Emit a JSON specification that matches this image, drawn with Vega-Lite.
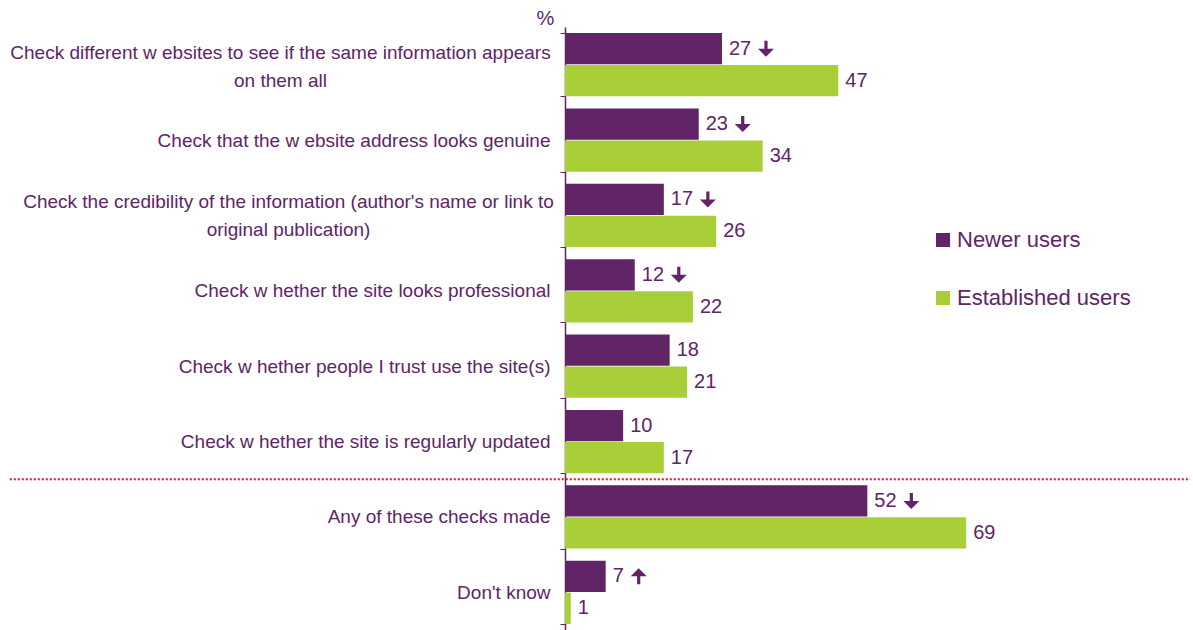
{
  "$schema": "https://vega.github.io/schema/vega-lite/v6.json",
  "width": 625,
  "height": 603,
  "autosize": "none",
  "padding": {"left": 565, "top": 27, "right": 3, "bottom": 0},
  "background": "white",
  "config": {"font": "Liberation Sans", "view": {"stroke": null}},
  "data": {
    "values": [
      {"cat": "Check different w ebsites to see if the same information appears|on them all", "group": "Newer users", "value": 27, "arrow": "down"},
      {"cat": "Check different w ebsites to see if the same information appears|on them all", "group": "Established users", "value": 47, "arrow": ""},
      {"cat": "Check that the w ebsite address looks genuine", "group": "Newer users", "value": 23, "arrow": "down"},
      {"cat": "Check that the w ebsite address looks genuine", "group": "Established users", "value": 34, "arrow": ""},
      {"cat": "Check the credibility of the information (author's name or link to|original publication)", "group": "Newer users", "value": 17, "arrow": "down"},
      {"cat": "Check the credibility of the information (author's name or link to|original publication)", "group": "Established users", "value": 26, "arrow": ""},
      {"cat": "Check w hether the site looks professional", "group": "Newer users", "value": 12, "arrow": "down"},
      {"cat": "Check w hether the site looks professional", "group": "Established users", "value": 22, "arrow": ""},
      {"cat": "Check w hether people I trust use the site(s)", "group": "Newer users", "value": 18, "arrow": ""},
      {"cat": "Check w hether people I trust use the site(s)", "group": "Established users", "value": 21, "arrow": ""},
      {"cat": "Check w hether the site is regularly updated", "group": "Newer users", "value": 10, "arrow": ""},
      {"cat": "Check w hether the site is regularly updated", "group": "Established users", "value": 17, "arrow": ""},
      {"cat": "Any of these checks made", "group": "Newer users", "value": 52, "arrow": "down"},
      {"cat": "Any of these checks made", "group": "Established users", "value": 69, "arrow": ""},
      {"cat": "Don't know", "group": "Newer users", "value": 7, "arrow": "up"},
      {"cat": "Don't know", "group": "Established users", "value": 1, "arrow": ""}
    ]
  },
  "encoding": {
    "y": {
      "field": "cat",
      "type": "nominal",
      "sort": null,
      "scale": {"paddingInner": 0.16, "paddingOuter": 0.08},
      "axis": {
        "title": "%",
        "titleAngle": 0,
        "titleX": -20,
        "titleY": 1,
        "titleAlign": "center",
        "titleBaseline": "bottom",
        "titleFont": "Liberation Sans",
        "titleFontSize": 20,
        "titleFontWeight": "normal",
        "titleColor": "#612466",
        "labelExpr": "split(datum.label, '|')",
        "labelFont": "Liberation Sans",
        "labelFontSize": 19,
        "labelColor": "#612466",
        "labelLimit": 600,
        "labelAlign": {
          "condition": {"test": "indexof(datum.label, '|') >= 0", "value": "center"},
          "value": "right"
        },
        "labelPadding": {
          "condition": [
            {"test": "indexof(datum.label, 'appears|') >= 0", "value": 280},
            {"test": "indexof(datum.label, 'link to|') >= 0", "value": 272}
          ],
          "value": 10
        },
        "labelOffset": {
          "condition": [
            {"test": "indexof(datum.label, 'appears|') >= 0", "value": -12},
            {"test": "indexof(datum.label, 'link to|') >= 0", "value": -14}
          ],
          "value": 0
        },
        "labelLineHeight": 28,
        "tickBand": "extent",
        "tickSize": 5,
        "tickColor": "#612466",
        "domainColor": "#612466",
        "domainWidth": 1.5,
        "grid": false
      }
    }
  },
  "layer": [
    {
      "mark": {"type": "bar"},
      "encoding": {
        "x": {"field": "value", "type": "quantitative", "scale": {"domain": [0, 107.5], "nice": false}, "axis": null},
        "yOffset": {"field": "group", "type": "nominal", "sort": ["Newer users", "Established users"], "scale": {"paddingInner": 0.02}},
        "color": {
          "field": "group",
          "type": "nominal",
          "sort": ["Newer users", "Established users"],
          "scale": {"domain": ["Newer users", "Established users"], "range": ["#612466", "#A8CF38"]},
          "legend": {
            "title": null,
            "orient": "none",
            "legendX": 367,
            "legendY": 202,
            "symbolType": "square",
            "symbolSize": 196,
            "symbolStrokeWidth": 0,
            "symbolOpacity": 1,
            "labelFont": "Liberation Sans",
            "labelFontSize": 22,
            "labelColor": "#612466",
            "labelLimit": 300,
            "labelOffset": 3,
            "rowPadding": 36
          }
        }
      }
    },
    {
      "mark": {"type": "text", "align": "left", "baseline": "middle", "dx": 7, "fontSize": 20, "color": "#612466", "font": "Liberation Sans"},
      "encoding": {
        "x": {"field": "value", "type": "quantitative"},
        "yOffset": {"field": "group", "type": "nominal", "sort": ["Newer users", "Established users"]},
        "text": {"field": "value"}
      }
    },
    {
      "transform": [{"filter": "datum.arrow == 'down'"}],
      "mark": {"type": "point", "shape": "M-0.2,-1L0.2,-1L0.2,0L1,0L0,1L-1,0L-0.2,0Z", "size": 256, "filled": true, "opacity": 1, "strokeWidth": 0, "color": "#612466", "xOffset": 44, "yOffset": -3},
      "encoding": {
        "x": {"field": "value", "type": "quantitative"},
        "yOffset": {"field": "group", "type": "nominal", "sort": ["Newer users", "Established users"]}
      }
    },
    {
      "transform": [{"filter": "datum.arrow == 'up'"}],
      "mark": {"type": "point", "shape": "M-0.2,1L0.2,1L0.2,0L1,0L0,-1L-1,0L-0.2,0Z", "size": 256, "filled": true, "opacity": 1, "strokeWidth": 0, "color": "#612466", "xOffset": 33, "yOffset": -3},
      "encoding": {
        "x": {"field": "value", "type": "quantitative"},
        "yOffset": {"field": "group", "type": "nominal", "sort": ["Newer users", "Established users"]}
      }
    },
    {
      "transform": [{"filter": "datum.cat == 'Any of these checks made' && datum.group == 'Newer users'"}],
      "mark": {"type": "rule", "color": "#E0101A", "strokeWidth": 2, "strokeDash": [2, 2], "yOffset": -6, "clip": false},
      "encoding": {
        "y": {"field": "cat", "type": "nominal", "sort": null, "bandPosition": 0},
        "x": {"datum": -95.5},
        "x2": {"datum": 107.5}
      }
    }
  ]
}
